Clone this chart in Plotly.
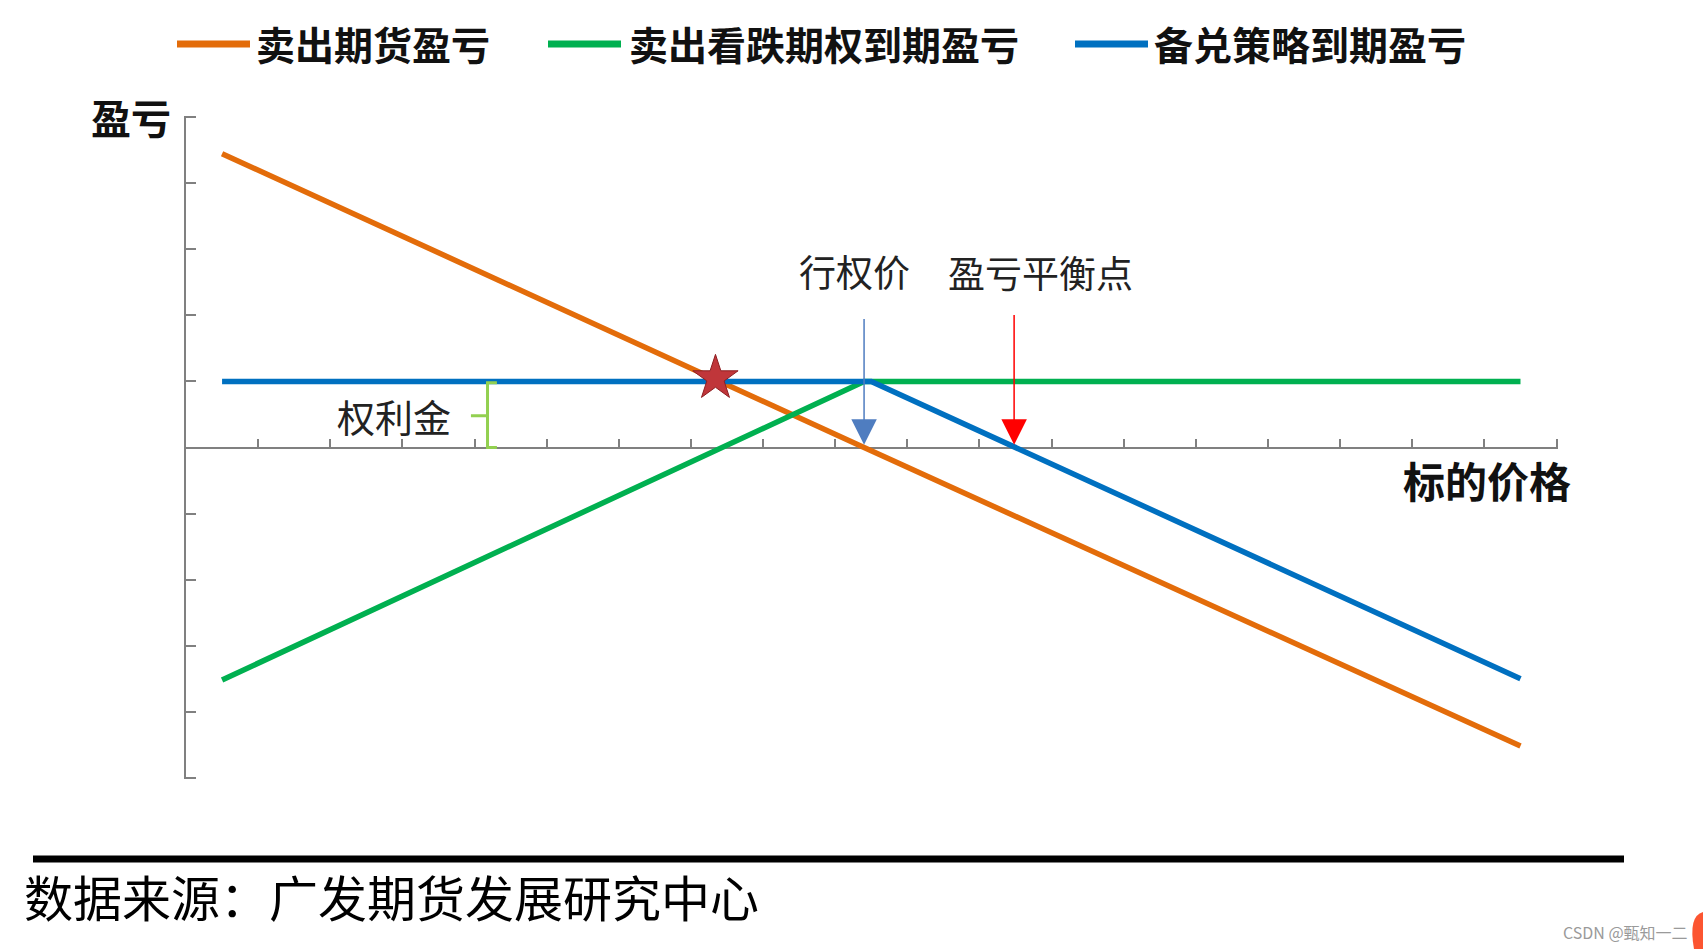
import plotly.graph_objects as go

# ---------------- data ----------------
series_names = ["卖出期货盈亏", "卖出看跌期权到期盈亏", "备兑策略到期盈亏"]
price_futures = [0.5, 9.4, 18.5]
short_futures = [4.45, 0.0, -4.52]
price_put = [0.5, 9.4, 18.5]
short_put = [-3.52, 1.0, 1.0]
price_covered = [0.5, 9.5, 18.5]
covered = [1.0, 1.0, -3.5]
star_x = [7.34]
star_y = [1.05]
strike = 9.4
breakeven = 11.48
premium = 1.0
x_range = [0, 19.02]
y_range = [-5.02, 5.02]

colors = ["#E36C0A", "#00B050", "#0070C0"]
FONT = "Noto Sans CJK SC"

W, H = 1703, 949
L, R, T, B = 186, 145, 116, 170
PW, PH = W - L - R, H - T - B


def px(X):
    return (X - L) / PW


def py(Y):
    return (H - B - Y) / PH


fig = go.Figure()
xs = [price_futures, price_put, price_covered]
ys = [short_futures, short_put, covered]
for name, x, y, c in zip(series_names, xs, ys, colors):
    fig.add_trace(go.Scatter(x=x, y=y, mode="lines", name=name,
                             line=dict(color=c, width=5.5), showlegend=False,
                             hoverinfo="skip"))

fig.add_trace(go.Scatter(x=star_x, y=star_y, mode="markers", showlegend=False,
                         marker=dict(symbol="star", size=34, color="#C0363A",
                                     line=dict(color="#8E1F22", width=1)),
                         hoverinfo="skip"))

shapes = []
annotations = []

# custom legend at top
leg_lines = [(177, 250), (548, 621), (1075, 1148)]
leg_text_x = [257, 630, 1155]
LEG_Y = 43
for (x0, x1), tx, name, c in zip(leg_lines, leg_text_x, series_names, colors):
    shapes.append(dict(type="line", xref="paper", yref="paper",
                       x0=px(x0), x1=px(x1), y0=py(LEG_Y + 1), y1=py(LEG_Y + 1),
                       line=dict(color=c, width=7)))
    annotations.append(dict(xref="paper", yref="paper", x=px(tx - 3), y=py(LEG_Y),
                            xanchor="left", yanchor="middle", showarrow=False,
                            text="<b>" + name + "</b>",
                            font=dict(family=FONT, size=39, color="#111111")))

# axis titles
annotations.append(dict(xref="paper", yref="paper", x=px(131), y=py(117),
                        xanchor="center", yanchor="middle", showarrow=False,
                        text="<b>盈亏</b>", font=dict(family=FONT, size=40, color="#111111")))
annotations.append(dict(xref="paper", yref="paper", x=px(1487), y=py(479),
                        xanchor="center", yanchor="middle", showarrow=False,
                        text="<b>标的价格</b>", font=dict(family=FONT, size=42, color="#111111")))

# strike / breakeven labels and arrows
annotations.append(dict(x=9.27, y=2.67, xref="x", yref="y", showarrow=False,
                        text="行权价", font=dict(family=FONT, size=37, color="#222222")))
annotations.append(dict(x=11.84, y=2.66, xref="x", yref="y", showarrow=False,
                        text="盈亏平衡点", font=dict(family=FONT, size=37, color="#222222")))
annotations.append(dict(x=strike, y=0.04, ax=strike, ay=1.97, xref="x", yref="y",
                        axref="x", ayref="y", text="", showarrow=True,
                        arrowhead=2, arrowsize=3.4, arrowwidth=1.5, arrowcolor="#4F7DC0"))
annotations.append(dict(x=breakeven, y=0.04, ax=breakeven, ay=2.03, xref="x", yref="y",
                        axref="x", ayref="y", text="", showarrow=True,
                        arrowhead=2, arrowsize=3.4, arrowwidth=1.5, arrowcolor="#FF0000"))

# premium bracket and label
shapes.append(dict(type="path", xref="x", yref="y",
                   path="M 4.31,0.98 L 4.18,0.98 L 4.18,0 L 4.31,0 M 4.18,0.48 L 3.95,0.48",
                   line=dict(color="#92D050", width=3)))
annotations.append(dict(x=2.88, y=0.48, xref="x", yref="y", showarrow=False,
                        text="权利金", font=dict(family=FONT, size=38, color="#222222")))

# bottom rule and source text
shapes.append(dict(type="line", xref="paper", yref="paper",
                   x0=px(33), x1=px(1624), y0=py(859), y1=py(859),
                   line=dict(color="#000000", width=7)))
annotations.append(dict(xref="paper", yref="paper", x=px(22), y=py(895),
                        xanchor="left", yanchor="middle", showarrow=False,
                        text="数据来源：广发期货发展研究中心",
                        font=dict(family=FONT, size=49, color="#000000")))
annotations.append(dict(xref="paper", yref="paper", x=px(1690), y=py(932),
                        xanchor="right", yanchor="middle", showarrow=False,
                        text="CSDN @甄知一二",
                        font=dict(family=FONT, size=16, color="#9a9a9a")))
shapes.append(dict(type="path", xref="paper", yref="paper",
                   path=f"M {px(1703)},{py(912)} Q {px(1688)},{py(916)} {px(1694)},{py(949)} L {px(1703)},{py(949)} Z",
                   fillcolor="#FC5531", line=dict(width=0)))

axis_common = dict(showline=True, linecolor="#808080", linewidth=2,
                   ticks="inside", tickcolor="#808080", tickwidth=2,
                   showticklabels=False, showgrid=False, zeroline=False,
                   dtick=1, tick0=0, layer="below traces", fixedrange=True)

fig.update_layout(
    width=W, height=H,
    margin=dict(l=L, r=R, t=T, b=B, pad=0),
    paper_bgcolor="white", plot_bgcolor="white",
    xaxis=dict(range=x_range, ticklen=8, anchor="free", position=0.5, **axis_common),
    yaxis=dict(range=y_range, ticklen=10, **axis_common),
    shapes=shapes, annotations=annotations,
    showlegend=False,
)

fig.write_html("out.html")
